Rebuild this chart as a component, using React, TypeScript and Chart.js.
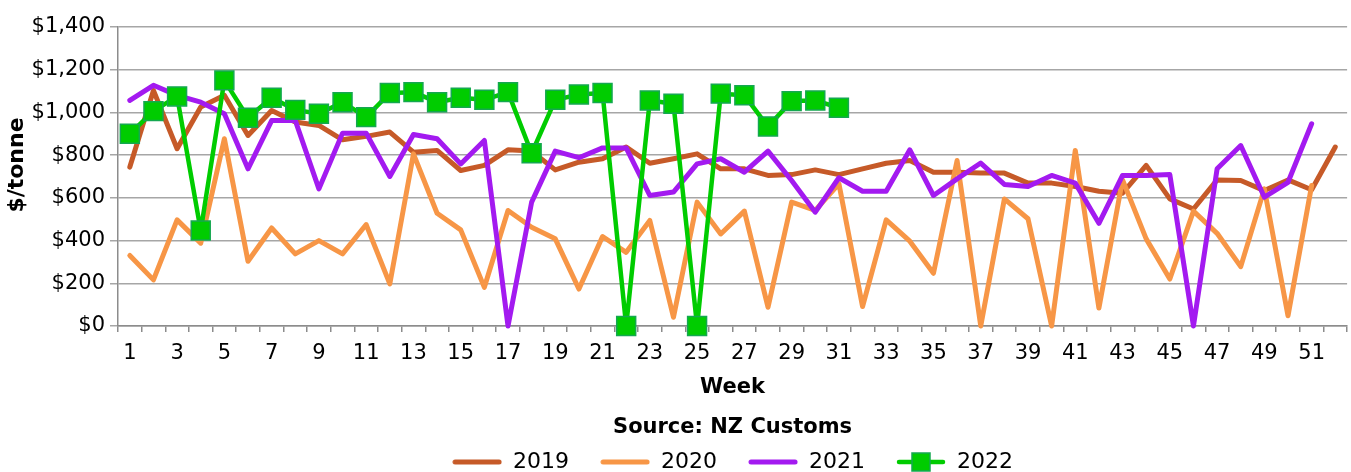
import React, { useEffect, useRef } from 'react';
import { Chart, registerables } from 'chart.js';

Chart.register(...registerables);

const WEEKS = ['1','2','3','4','5','6','7','8','9','10','11','12','13','14','15','16','17','18','19','20','21','22','23','24','25','26','27','28','29','30','31','32','33','34','35','36','37','38','39','40','41','42','43','44','45','46','47','48','49','50','51','52'];

const Y2019 = [744, 1103, 830, 1025, 1080, 892, 1009, 955, 939, 872, 888, 908, 814, 822, 728, 752, 825, 819, 731, 767, 783, 838, 762, 783, 806, 736, 736, 705, 709, 731, 709, 736, 762, 775, 720, 720, 716, 716, 669, 669, 653, 631, 622, 752, 595, 548, 684, 681, 634, 684, 638, 838];

const Y2020 = [330, 216, 497, 388, 877, 303, 459, 338, 400, 338, 475, 197, 806, 528, 450, 181, 541, 462, 408, 173, 419, 345, 494, 41, 580, 431, 538, 88, 580, 541, 666, 91, 497, 397, 247, 775, 0, 595, 502, 0, 822, 84, 684, 408, 220, 538, 434, 278, 642, 48, 658];

const Y2021 = [1056, 1127, 1080, 1048, 994, 736, 962, 962, 642, 903, 903, 700, 897, 877, 759, 869, 0, 580, 819, 788, 834, 834, 611, 627, 759, 783, 720, 819, 681, 533, 694, 631, 631, 825, 611, 689, 763, 663, 653, 705, 669, 481, 705, 705, 709, 0, 736, 845, 603, 673, 947];

const Y2022 = [900, 1006, 1075, 447, 1150, 975, 1069, 1012, 994, 1048, 978, 1091, 1095, 1048, 1069, 1059, 1095, 809, 1059, 1084, 1091, 0, 1056, 1041, 0, 1088, 1080, 934, 1053, 1056, 1022];

const SERIES_LABELS = ['2019', '2020', '2021', '2022'];

const Y_MIN = 0;
const Y_MAX = 1400;
const Y_STEP = 200;

const X_TITLE = ['Week', 'Source: NZ Customs'];
const Y_TITLE = '$/tonne';

const COLORS = ['#C65A28', '#F79646', '#A31AF0', '#00CC00'];
const MARKER_BORDER = '#14A850';
const FONT = 'DejaVu Sans';

function makeSymbol(color: string, square: boolean): HTMLCanvasElement {
  const c = document.createElement('canvas');
  c.width = 50;
  c.height = 20;
  const ctx = c.getContext('2d')!;
  ctx.strokeStyle = color;
  ctx.lineWidth = square ? 4.5 : 5;
  ctx.lineCap = 'round';
  ctx.beginPath();
  ctx.moveTo(3, 10);
  ctx.lineTo(47, 10);
  ctx.stroke();
  if (square) {
    ctx.fillStyle = color;
    ctx.fillRect(16, 1, 18, 18);
    ctx.strokeStyle = MARKER_BORDER;
    ctx.lineWidth = 1.5;
    ctx.strokeRect(16, 1, 18, 18);
  }
  return c;
}

export default function App() {
  const ref = useRef<HTMLCanvasElement>(null);

  useEffect(() => {
    if (!ref.current) return;
    const symbols = [
      makeSymbol(COLORS[0], false),
      makeSymbol(COLORS[1], false),
      makeSymbol(COLORS[2], false),
      makeSymbol(COLORS[3], true),
    ];
    const lineBase = {
      tension: 0,
      pointRadius: 0,
      pointHoverRadius: 0,
      borderWidth: 5,
      borderJoinStyle: 'round' as const,
      borderCapStyle: 'round' as const,
      clip: false as const,
      fill: false,
    };
    const chart = new Chart(ref.current, {
      type: 'line',
      data: {
        labels: WEEKS,
        datasets: [
          { ...lineBase, label: SERIES_LABELS[0], data: Y2019, borderColor: COLORS[0], backgroundColor: COLORS[0], order: 4 },
          { ...lineBase, label: SERIES_LABELS[1], data: Y2020, borderColor: COLORS[1], backgroundColor: COLORS[1], order: 3 },
          { ...lineBase, label: SERIES_LABELS[2], data: Y2021, borderColor: COLORS[2], backgroundColor: COLORS[2], order: 2 },
          {
            ...lineBase,
            label: SERIES_LABELS[3],
            data: Y2022,
            borderColor: COLORS[3],
            backgroundColor: COLORS[3],
            borderWidth: 4.5,
            pointStyle: 'rect',
            pointRadius: 13.4,
            pointHoverRadius: 13.4,
            pointBackgroundColor: COLORS[3],
            pointBorderColor: MARKER_BORDER,
            pointBorderWidth: 1.5,
            order: 1,
          },
        ],
      },
      options: {
        responsive: false,
        animation: false,
        events: [],
        color: '#000',
        layout: { padding: { top: 27, left: 0, right: 0, bottom: 0 } },
        scales: {
          x: {
            type: 'category',
            offset: true,
            grid: {
              offset: true,
              drawOnChartArea: false,
              drawTicks: true,
              tickLength: 6,
              color: '#8c8c8c',
              lineWidth: 1.5,
            },
            border: { display: true, color: '#8c8c8c', width: 1.5 },
            ticks: {
              autoSkip: false,
              maxRotation: 0,
              minRotation: 0,
              padding: 9,
              color: '#000',
              font: { family: FONT, size: 21 },
              callback: (_v: any, i: number) => (i % 2 === 0 ? WEEKS[i] : ''),
            },
            title: {
              display: true,
              text: X_TITLE,
              color: '#000',
              padding: { top: 0, bottom: 0 },
              font: { family: FONT, size: 21, weight: 'bold', lineHeight: '40px' },
            },
            afterFit: (s: any) => {
              s.height = 122;
            },
          },
          y: {
            min: Y_MIN,
            max: Y_MAX,
            ticks: {
              stepSize: Y_STEP,
              padding: 5,
              color: '#000',
              font: { family: FONT, size: 21 },
              callback: (v: any) => '$' + Number(v).toLocaleString('en-US'),
            },
            grid: {
              color: '#a6a6a6',
              lineWidth: 1.5,
              drawTicks: true,
              tickLength: 8,
            },
            border: { display: true, color: '#8c8c8c', width: 1.5 },
            title: {
              display: true,
              text: '   ' + Y_TITLE,
              color: '#000',
              padding: { top: 4, bottom: 0 },
              font: { family: FONT, size: 22, weight: 'bold' },
            },
            afterFit: (s: any) => {
              s.width = 118;
            },
          },
        },
        plugins: {
          tooltip: { enabled: false },
          legend: {
            display: true,
            position: 'bottom',
            fullSize: false,
            labels: {
              usePointStyle: true,
              pointStyleWidth: 50,
              padding: 3,
              color: '#000',
              font: { family: FONT, size: 22 },
              generateLabels: (c: any) =>
                c.data.datasets.map((ds: any, i: number) => ({
                  text: ds.label + (i < c.data.datasets.length - 1 ? '    ' : ''),
                  pointStyle: symbols[i],
                  fillStyle: 'rgba(0,0,0,0)',
                  strokeStyle: 'rgba(0,0,0,0)',
                  lineWidth: 0,
                  hidden: false,
                  datasetIndex: i,
                  fontColor: '#000',
                })),
            },
          },
        },
      },
    });
    return () => chart.destroy();
  }, []);

  return (
    <div
      style={{
        position: 'absolute',
        left: 0,
        top: 0,
        width: 1351,
        height: 472,
        overflow: 'hidden',
        background: '#fff',
      }}
    >
      <canvas ref={ref} width={1362} height={483} style={{ display: 'block', width: 1362, height: 483 }} />
    </div>
  );
}
